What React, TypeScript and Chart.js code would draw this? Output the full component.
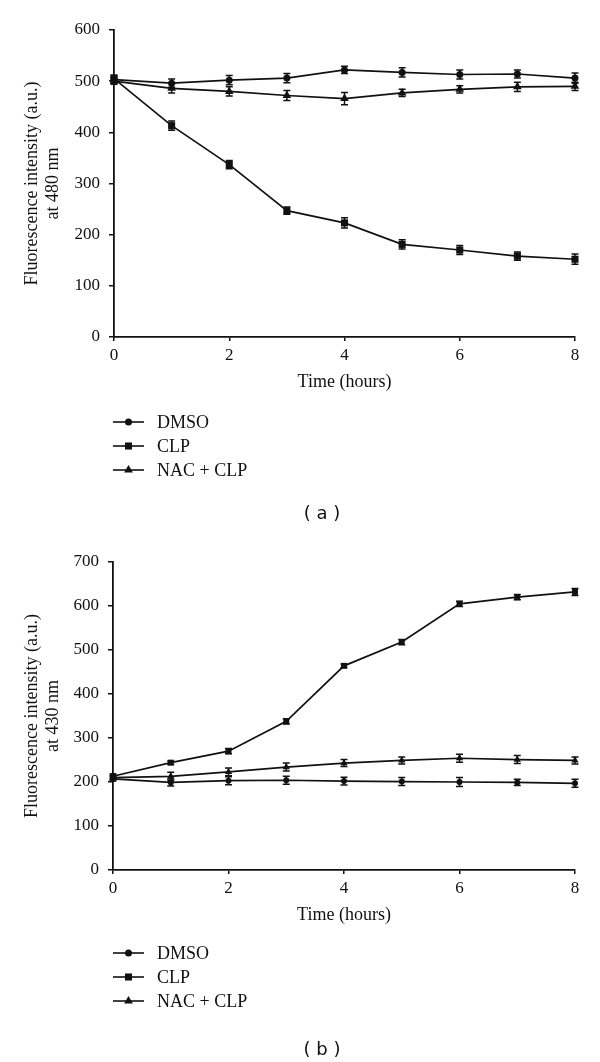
import React, { useEffect, useRef } from "react";
import { Chart, registerables } from "chart.js";
Chart.register(...registerables);

// ---------- data ----------
const TIME_HOURS = [0, 1, 2, 3, 4, 5, 6, 7, 8];
const SERIES_LABELS = ["DMSO", "CLP", "NAC + CLP"];
const POINT_STYLES = ["circle", "rect", "triangle"];

// Panel (a): fluorescence at 480 nm
const A_DMSO = [503, 496, 502, 506, 522, 517, 513, 514, 506];
const A_DMSO_ERR = [6, 8, 9, 9, 7, 9, 9, 8, 10];
const A_CLP = [505, 413, 337, 247, 223, 181, 170, 158, 152];
const A_CLP_ERR = [7, 9, 8, 7, 10, 9, 9, 8, 10];
const A_NAC = [500, 486, 480, 472, 466, 477, 484, 489, 490];
const A_NAC_ERR = [6, 9, 9, 10, 12, 7, 7, 9, 8];

// Panel (b): fluorescence at 430 nm
const B_DMSO = [207, 199, 203, 204, 202, 201, 200, 199, 197];
const B_DMSO_ERR = [5, 8, 9, 9, 9, 9, 10, 7, 9];
const B_CLP = [213, 244, 270, 338, 464, 518, 605, 620, 632];
const B_CLP_ERR = [5, 4, 6, 6, 4, 6, 6, 6, 8];
const B_NAC = [210, 213, 223, 234, 243, 249, 254, 251, 249];
const B_NAC_ERR = [5, 9, 9, 9, 8, 8, 9, 9, 8];

const X_TITLE = "Time (hours)";
const A_Y_TITLE = ["Fluorescence intensity (a.u.)", "at 480 nm"];
const B_Y_TITLE = ["Fluorescence intensity (a.u.)", "at 430 nm"];
const A_Y_MAX = 600;
const B_Y_MAX = 700;
const X_TICK_STEP = 2;
const Y_TICK_STEP = 100;
const A_PANEL_LABEL = "( a )";
const B_PANEL_LABEL = "( b )";

// ---------- styling ----------
const INK = "#111";
const SERIF = "'Liberation Serif', 'Times New Roman', serif";
const CANVAS_W = 600;
const CANVAS_H = 531;

const errorBarsPlugin = {
  id: "errorBars",
  afterDatasetsDraw(chart: any) {
    const ctx = chart.ctx;
    const yScale = chart.scales.y;
    ctx.save();
    ctx.strokeStyle = INK;
    ctx.lineWidth = 1.5;
    chart.data.datasets.forEach((ds: any, di: number) => {
      const meta = chart.getDatasetMeta(di);
      meta.data.forEach((pt: any, i: number) => {
        const v = ds.data[i].y;
        const e = ds.errors[i];
        const yT = yScale.getPixelForValue(v + e);
        const yB = yScale.getPixelForValue(v - e);
        const x = pt.x;
        const cap = 3.5;
        ctx.beginPath();
        ctx.moveTo(x, yT);
        ctx.lineTo(x, yB);
        ctx.moveTo(x - cap, yT);
        ctx.lineTo(x + cap, yT);
        ctx.moveTo(x - cap, yB);
        ctx.lineTo(x + cap, yB);
        ctx.stroke();
      });
    });
    ctx.restore();
  },
};

const listLegendPlugin = {
  id: "listLegend",
  afterDraw(chart: any, _args: any, opts: any) {
    const ctx = chart.ctx;
    ctx.save();
    chart.data.datasets.forEach((ds: any, i: number) => {
      const y = opts.top + i * opts.rowGap;
      ctx.strokeStyle = INK;
      ctx.lineWidth = 1.6;
      ctx.beginPath();
      ctx.moveTo(opts.x, y);
      ctx.lineTo(opts.x + opts.lineLen, y);
      ctx.stroke();
      ctx.fillStyle = INK;
      const mx = opts.x + opts.lineLen / 2;
      const r = opts.markerRadii[i];
      if (ds.pointStyle === "circle") {
        ctx.beginPath();
        ctx.arc(mx, y, r, 0, Math.PI * 2);
        ctx.fill();
      } else if (ds.pointStyle === "rect") {
        const s = r * Math.SQRT1_2;
        ctx.fillRect(mx - s, y - s, 2 * s, 2 * s);
      } else {
        ctx.beginPath();
        ctx.moveTo(mx, y - r);
        ctx.lineTo(mx + r * 0.87, y + r * 0.5);
        ctx.lineTo(mx - r * 0.87, y + r * 0.5);
        ctx.closePath();
        ctx.fill();
      }
      ctx.font = `18px ${SERIF}`;
      ctx.textBaseline = "middle";
      ctx.textAlign = "left";
      ctx.fillText(ds.label, opts.textX, y + 1);
    });
    ctx.font = `18px 'DejaVu Sans', sans-serif`;
    ctx.textAlign = "center";
    ctx.textBaseline = "middle";
    ctx.fillStyle = INK;
    ctx.fillText(opts.panelLabel, opts.panelX, opts.panelY);
    ctx.restore();
  },
};

type PanelCfg = {
  series: number[][];
  errors: number[][];
  yMax: number;
  yTitle: string[];
  axisLeft: number;
  plotTop: number;
  plotBottom: number;
  radii: number[];
  panelLabel: string;
  panelY: number;
};

function buildConfig(p: PanelCfg): any {
  const xAxisH = 60;
  return {
    type: "line",
    data: {
      datasets: SERIES_LABELS.map((label, si) => ({
        label,
        data: TIME_HOURS.map((t, i) => ({ x: t, y: p.series[si][i] })),
        errors: p.errors[si],
        borderColor: INK,
        backgroundColor: INK,
        borderWidth: 1.7,
        pointStyle: POINT_STYLES[si],
        pointRadius: p.radii[si],
        pointBorderWidth: 0,
        pointBackgroundColor: INK,
        tension: 0,
        clip: false,
      })),
    },
    options: {
      responsive: false,
      animation: false,
      events: [],
      layout: {
        padding: {
          left: 0,
          right: CANVAS_W - 575,
          top: p.plotTop,
          bottom: CANVAS_H - p.plotBottom - xAxisH,
        },
      },
      plugins: {
        legend: { display: false },
        tooltip: { enabled: false },
        listLegend: {
          x: 113,
          lineLen: 31,
          textX: 157,
          top: 422,
          rowGap: 24,
          markerRadii: [3.5, 5, 5],
          panelLabel: p.panelLabel,
          panelX: 322,
          panelY: p.panelY,
        },
      },
      scales: {
        x: {
          type: "linear",
          min: 0,
          max: 8,
          ticks: {
            stepSize: X_TICK_STEP,
            color: INK,
            font: { family: SERIF, size: 17 },
            padding: 4,
            maxRotation: 0,
          },
          grid: {
            display: true,
            drawOnChartArea: false,
            drawTicks: true,
            tickLength: 4,
            color: INK,
            lineWidth: 1.5,
          },
          border: { display: true, color: INK, width: 1.8 },
          title: {
            display: true,
            text: X_TITLE,
            color: INK,
            font: { family: SERIF, size: 18 },
            padding: { top: 0, bottom: 4 },
          },
          afterFit: (s: any) => {
            s.height = xAxisH;
          },
        },
        y: {
          min: 0,
          max: p.yMax,
          ticks: {
            stepSize: Y_TICK_STEP,
            color: INK,
            font: { family: SERIF, size: 17 },
            padding: 9,
          },
          grid: {
            display: true,
            drawOnChartArea: false,
            drawTicks: true,
            tickLength: 5,
            color: INK,
            lineWidth: 1.5,
          },
          border: { display: true, color: INK, width: 1.8 },
          title: {
            display: true,
            text: p.yTitle,
            color: INK,
            font: { family: SERIF, size: 18, lineHeight: 1.2 },
            padding: { top: 21, bottom: 0 },
          },
          afterFit: (s: any) => {
            s.width = p.axisLeft;
          },
        },
      },
    },
    plugins: [errorBarsPlugin, listLegendPlugin],
  };
}

function Panel({ cfg }: { cfg: PanelCfg }) {
  const ref = useRef<HTMLCanvasElement>(null);
  useEffect(() => {
    const chart = new Chart(ref.current as HTMLCanvasElement, buildConfig(cfg));
    return () => chart.destroy();
  }, []);
  return (
    <canvas
      ref={ref}
      width={CANVAS_W}
      height={CANVAS_H}
      style={{ display: "block", width: CANVAS_W, height: CANVAS_H }}
    />
  );
}

const PANEL_A: PanelCfg = {
  series: [A_DMSO, A_CLP, A_NAC],
  errors: [A_DMSO_ERR, A_CLP_ERR, A_NAC_ERR],
  yMax: A_Y_MAX,
  yTitle: A_Y_TITLE,
  axisLeft: 114,
  plotTop: 30,
  plotBottom: 337,
  radii: [3.5, 5, 5],
  panelLabel: A_PANEL_LABEL,
  panelY: 514,
};

const PANEL_B: PanelCfg = {
  series: [B_DMSO, B_CLP, B_NAC],
  errors: [B_DMSO_ERR, B_CLP_ERR, B_NAC_ERR],
  yMax: B_Y_MAX,
  yTitle: B_Y_TITLE,
  axisLeft: 113,
  plotTop: 31,
  plotBottom: 339,
  radii: [3, 4.2, 4.2],
  panelLabel: B_PANEL_LABEL,
  panelY: 519,
};

export default function App() {
  return (
    <div
      style={{
        position: "absolute",
        left: 0,
        top: 0,
        width: CANVAS_W,
        height: CANVAS_H * 2,
        background: "#fff",
      }}
    >
      <Panel cfg={PANEL_A} />
      <Panel cfg={PANEL_B} />
    </div>
  );
}
